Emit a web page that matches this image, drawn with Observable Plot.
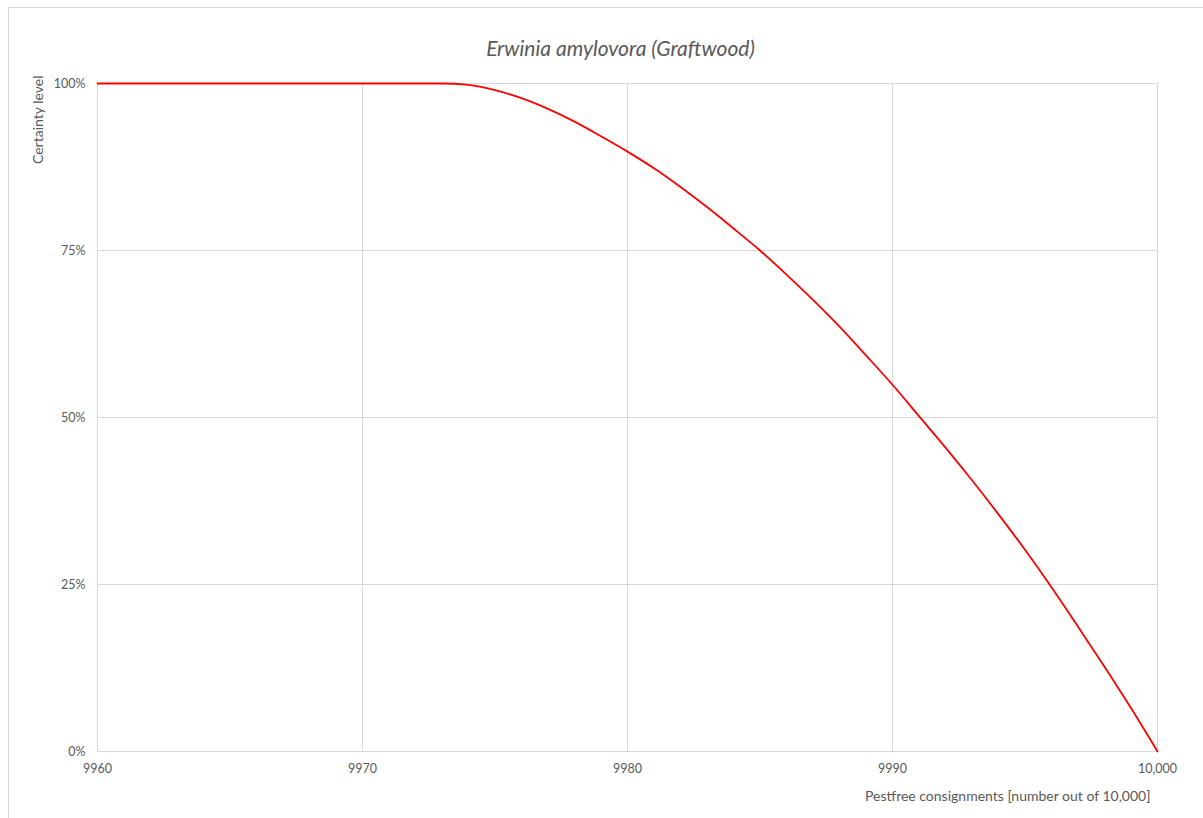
<!DOCTYPE html>
<html>
<head>
<meta charset="utf-8">
<script src="https://cdn.jsdelivr.net/npm/d3@7"></script>
<script src="https://cdn.jsdelivr.net/npm/@observablehq/plot@0.6"></script>
<style>
  html, body { margin: 0; padding: 0; background: #fff; overflow: hidden; }
  #wrap { position: relative; width: 1203px; height: 818px; }
  #border { position: absolute; left: 8px; top: 7px; width: 1300px; height: 900px; border: 1px solid #d9d9d9; box-sizing: border-box; pointer-events: none; }
  #chart { position: absolute; left: 0; top: 0; }
</style>
</head>
<body>
<div id="wrap"><div id="border"></div><div id="chart"></div></div>
<script>
// Pestfree consignments (number out of 10,000)
const consignments = [9960, 9961, 9962, 9963, 9964, 9965, 9966, 9967, 9968, 9969,
  9970, 9971, 9972, 9973, 9974, 9975, 9976, 9977, 9978, 9979,
  9980, 9981, 9982, 9983, 9984, 9985, 9986, 9987, 9988, 9989,
  9990, 9991, 9992, 9993, 9994, 9995, 9996, 9997, 9998, 9999, 10000];
// Certainty level (%)
const certainty = [100, 100, 100, 100, 100, 100, 100, 100, 100, 100,
  100, 100, 100, 100, 99.8, 99.0, 97.8, 96.2, 94.3, 92.1,
  89.8, 87.3, 84.5, 81.5, 78.3, 75.0, 71.4, 67.6, 63.6, 59.3,
  54.9, 50.2, 45.5, 40.6, 35.5, 30.2, 24.6, 18.7, 12.7, 6.5, 0];
const xTicks = [9960, 9970, 9980, 9990, 10000];
const yTicks = [0, 25, 50, 75, 100];
const title = "Erwinia amylovora (Graftwood)";
const yTitle = "Certainty level";
const xTitle = "Pestfree consignments [number out of 10,000]";

const data = consignments.map((c, i) => ({x: c, y: certainty[i]}));
const font = "Lato, 'Open Sans', sans-serif";
const grey = "#595959";
const xFmt = d => d >= 10000 ? "10,000" : String(d);

const chart = Plot.plot({
  width: 1203,
  height: 818,
  marginLeft: 97,
  marginRight: 46,
  marginTop: 83,
  marginBottom: 67,
  style: {fontFamily: font, fontSize: "12px", color: grey, background: "transparent"},
  x: {domain: [9960, 10000], ticks: xTicks, tickFormat: xFmt, label: null},
  y: {domain: [0, 100], ticks: yTicks, tickFormat: d => d + "%", label: null},
  marks: [
    Plot.gridX(xTicks, {stroke: "#d9d9d9", strokeOpacity: 1}),
    Plot.gridY(yTicks, {stroke: "#d9d9d9", strokeOpacity: 1}),
    Plot.axisX(xTicks, {tickSize: 0, tickPadding: 13, fill: grey, fontSize: 12.5, label: null, tickFormat: xFmt}),
    Plot.axisY(yTicks, {tickSize: 0, tickPadding: 12, fill: grey, fontSize: 12.5, label: null, tickFormat: d => d + "%"}),
    Plot.line(data, {x: "x", y: "y", stroke: "#ff0000", strokeWidth: 1.8, curve: "monotone-x"}),
    Plot.text([title], {frameAnchor: "top", dy: -42, dx: -7, text: d => d, fontSize: 21, fontStyle: "italic", fill: grey}),
    Plot.text([yTitle], {frameAnchor: "top-left", dx: -64, dy: -8, rotate: -90, textAnchor: "end", text: d => d, fontSize: 14, fill: grey}),
    Plot.text([xTitle], {frameAnchor: "bottom-right", dx: -7, dy: 49, textAnchor: "end", text: d => d, fontSize: 14, fill: grey})
  ]
});
document.getElementById("chart").appendChild(chart);
</script>
</body>
</html>
